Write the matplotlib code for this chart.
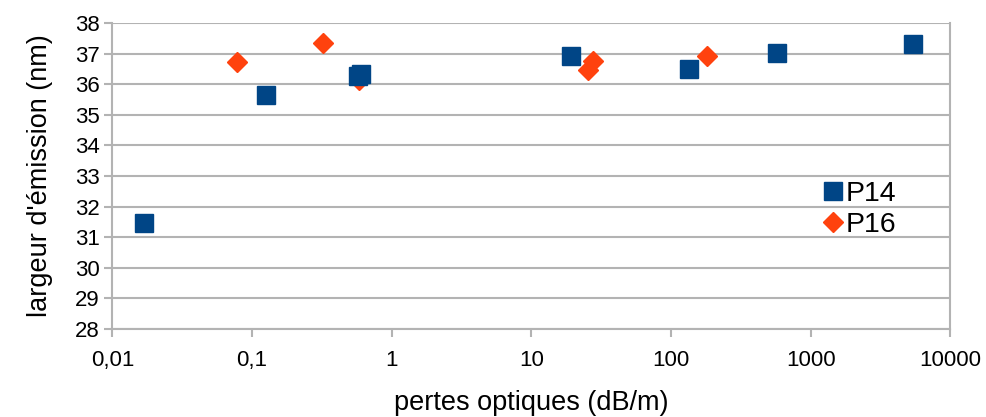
import matplotlib
matplotlib.use("Agg")
import matplotlib.pyplot as plt
from matplotlib.ticker import FixedLocator, FixedFormatter, NullLocator

# ============ 数据 ============
p14_x = [0.0169, 0.127, 0.57, 0.60, 19.3, 134.5, 573, 5420]
p14_y = [31.45, 35.65, 36.27, 36.32, 36.91, 36.51, 37.03, 37.30]

p16_x = [0.0777, 0.322, 0.58, 25.4, 27.6, 180]
p16_y = [36.74, 37.33, 36.15, 36.45, 36.75, 36.91]

x_ticks = [0.01, 0.1, 1, 10, 100, 1000, 10000]
x_tick_labels = ["0,01", "0,1", "1", "10", "100", "1000", "10000"]
y_ticks = list(range(28, 39))

GRID_COLOR = "#b3b3b3"
plt.rcParams["font.family"] = ["Liberation Sans", "DejaVu Sans"]

fig = plt.figure(figsize=(9.87, 4.17), dpi=100)
ax = fig.add_axes([0.1138, 0.211, 0.849, 0.734])

# P16 在下层，P14 方块覆盖其上
ax.plot(p16_x, p16_y, linestyle="none", marker="D", markersize=10.5,
        color="#ff420e", label="P16", zorder=3)
ax.plot(p14_x, p14_y, linestyle="none", marker="s", markersize=12.5,
        color="#004586", label="P14", zorder=4)

ax.set_xscale("log")
ax.set_xlim(0.01, 10000)
ax.set_ylim(28, 38)
ax.xaxis.set_major_locator(FixedLocator(x_ticks))
ax.xaxis.set_major_formatter(FixedFormatter(x_tick_labels))
ax.xaxis.set_minor_locator(NullLocator())
ax.set_yticks(y_ticks)

ax.grid(axis="y", color=GRID_COLOR, linewidth=1.5)
ax.set_axisbelow(True)
for side in ["left", "right", "bottom"]:
    ax.spines[side].set_color(GRID_COLOR)
    ax.spines[side].set_linewidth(1.5)
ax.spines["top"].set_visible(False)

ax.tick_params(axis="both", colors=GRID_COLOR, width=1.5, length=6,
               labelcolor="black", labelsize=16)
ax.tick_params(axis="x", pad=9)
ax.tick_params(axis="y", pad=3)

ax.set_xlabel("pertes optiques (dB/m)", fontsize=19.5, labelpad=14)
ax.set_ylabel("largeur d'émission (nm)", fontsize=19.5, labelpad=16)

handles, labels = ax.get_legend_handles_labels()
ax.legend(handles[::-1], labels[::-1], loc="center left",
          bbox_to_anchor=(0.836, 0.39), frameon=False, fontsize=20.5,
          handlelength=0.6, handletextpad=0.15, labelspacing=0.18,
          borderaxespad=0)

fig.savefig("out.png", dpi=100)
